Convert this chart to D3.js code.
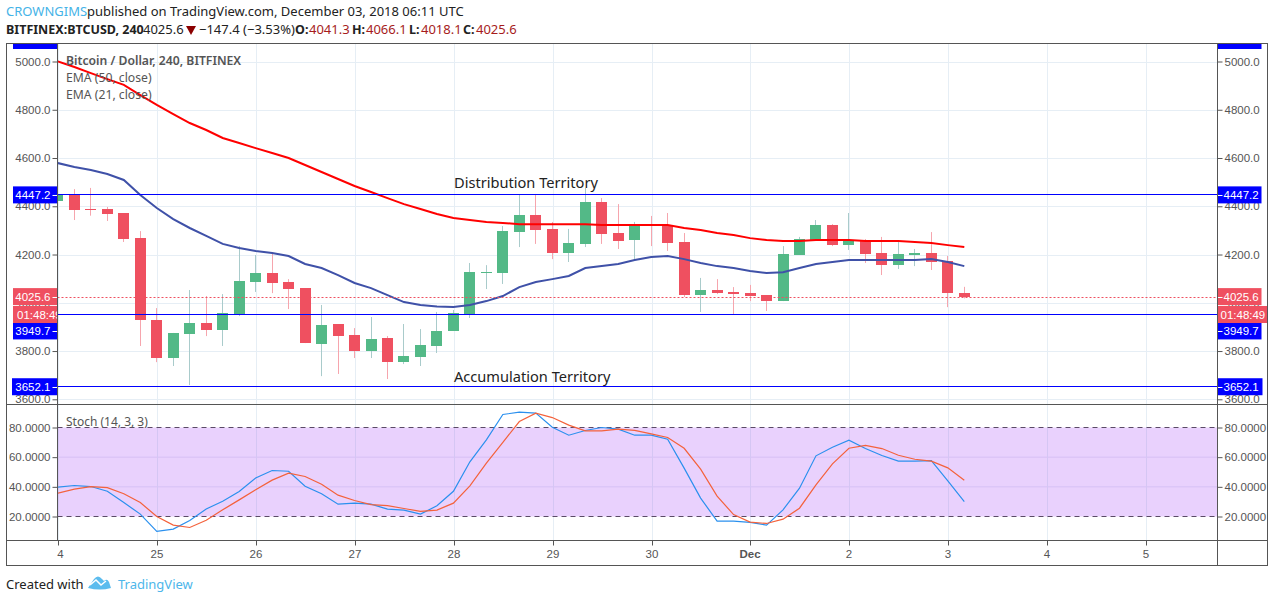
<!DOCTYPE html>
<html><head><meta charset="utf-8">
<style>html,body{margin:0;padding:0;background:#fff}svg{display:block}</style>
<script src="https://cdnjs.cloudflare.com/ajax/libs/d3/7.8.5/d3.min.js"></script>
</head><body><div id="c"></div>
<script>
// [open, high, low, close] for each 4h candle
const candles=[
[4423,4448,4423,4448],[4448,4471,4343,4384],[4387,4476,4361,4384],[4389,4397,4339,4368],[4372,4372,4252,4264],
[4268,4297,3821,3928],[3928,3978,3754,3771],[3771,3875,3738,3875],[3871,4053,3659,3916],[3916,4028,3862,3887],
[3887,4036,3821,3957],[3953,4235,3945,4090],[4086,4198,4045,4123],[4123,4210,4040,4082],[4086,4098,3974,4057],
[4061,4061,3833,3833],[3829,3991,3696,3908],[3912,3912,3705,3862],[3866,3895,3771,3800],[3800,3941,3771,3850],
[3854,3862,3684,3754],[3754,3912,3746,3779],[3775,3891,3738,3825],[3821,3962,3792,3883],[3883,3970,3883,3957],
[3953,4165,3937,4127],[4123,4156,4057,4127],[4123,4318,4078,4297],[4293,4450,4231,4364],[4364,4451,4244,4302],
[4306,4335,4181,4206],[4206,4306,4169,4248],[4244,4476,4231,4418],[4418,4434,4244,4285],[4289,4409,4223,4256],
[4260,4335,4181,4322],[4326,4360,4235,4318],[4322,4372,4215,4248],[4252,4289,4024,4032],[4032,4103,3962,4053],
[4053,4098,4036,4040],[4045,4065,3953,4036],[4040,4074,4007,4028],[4032,4032,3966,4007],[4007,4235,4007,4202],
[4198,4273,4198,4264],[4260,4343,4260,4322],[4322,4326,4235,4239],[4239,4372,4219,4256],[4256,4264,4165,4202],
[4206,4273,4115,4156],[4156,4256,4140,4202],[4198,4223,4152,4206],[4206,4293,4136,4169],[4173,4194,3982,4040],
[4041.3,4066.1,4018.1,4025.6]];
const ema50=[5000,4977,4952,4927,4903,4861,4820,4782,4745,4716,4683,4662,4641,4621,4600,4571,4542,4513,4484,4459,
4434,4409,4389,4368,4351,4343,4335,4331,4326,4326,4326,4326,4326,4322,4322,4322,4322,4322,4310,4302,
4289,4281,4268,4260,4256,4256,4260,4260,4260,4256,4256,4256,4252,4248,4239,4231];
const ema21=[4579,4563,4550,4534,4509,4447,4393,4347,4310,4277,4244,4227,4215,4206,4194,4161,4144,4115,4082,4061,
4032,4003,3991,3985,3983,3991,4007,4028,4065,4086,4098,4111,4144,4152,4161,4177,4190,4194,4181,4165,
4152,4144,4132,4123,4127,4144,4161,4169,4177,4177,4177,4177,4177,4181,4169,4152];
const stochK=[39.8,40.9,40.2,37,29.4,21.6,10,11.5,17.3,25,30.3,36.9,46,51,50.5,40.4,35.3,28.3,29,28.3,
25,24.3,21.6,27.2,37,56.9,71.7,88.8,90.3,89.7,80.2,74.8,78,80,78.9,74.8,74.8,72.1,52.6,32.4,
16.9,16.9,16,14.2,24.5,39.1,60.9,66.7,71.5,65.8,61.1,57.3,57.3,57.7,44,30.1];
const stochD=[35.7,38.4,40.2,39.5,35.3,29.4,20,14.2,12.6,17.5,24.5,31.2,38,44.5,49.2,47,41.8,34.4,30.8,28,
27.3,25.4,23.4,24.3,29,40.7,56,70,84,89.7,86.7,81.6,77.7,77.7,78.9,78,75.7,73.3,66,51.9,
33.7,21.3,16.2,15.3,18.2,25.6,41.3,55.5,66,68,65.8,61.3,58.6,57.3,52.8,44.5];
const priceTicks=[3600,3800,4000,4200,4400,4600,4800,5000];
const stochTicks=[20,40,60,80];
const dayTicks=[[0,"4"],[6,"25"],[12,"26"],[18,"27"],[24,"28"],[30,"29"],[36,"30"],[42,"Dec"],[48,"2"],[54,"3"],[60,"4"],[66,"5"]];
const levels=[[4447.2,"4447.2"],[3949.7,"3949.7"],[3652.1,"3652.1"]];
const lastPrice=4025.6, countdown="01:48:49";
const territoryLabels=[["Distribution Territory",4476],["Accumulation Territory",3672]];

const W=1274,H=602,L=57.5,R=1217.5,T=43.5,M=404.5,B=540.5,F=565.5,OL=6.5,OR=1267.5;
const RED="#ef5060",GREEN="#53b987",AX="#555",SANS="'Noto Sans',sans-serif",AR="'Liberation Sans',Arial,sans-serif";
const svg=d3.select("#c").append("svg").attr("width",W).attr("height",H);
const defs=svg.append("defs");
defs.append("clipPath").attr("id","m").append("rect").attr("x",L+.5).attr("y",T).attr("width",R-L-.5).attr("height",M-T);
defs.append("clipPath").attr("id","s").append("rect").attr("x",L+.5).attr("y",M).attr("width",R-L-.5).attr("height",B-M);
const x=d3.scaleLinear().domain([0,66]).range([57.9,57.9+16.48*66]);
const y=d3.scaleLinear().domain([3600,5000]).range([399.3,61.5]);
const ys=d3.scaleLinear().domain([20,80]).range([516.5,427.5]);
const gx=i=>Math.ceil(x(i)-.1)+.5, cx=i=>Math.floor(x(i))+.5, cr=v=>Math.round(v)+.5;

// grid
const grid=svg.append("g").attr("stroke","#e6eef5").attr("stroke-width",1);
dayTicks.forEach(d=>{grid.append("line").attr("x1",gx(d[0])).attr("x2",gx(d[0])).attr("y1",T).attr("y2",B);});
priceTicks.forEach(p=>{grid.append("line").attr("x1",L).attr("x2",R).attr("y1",cr(y(p))).attr("y2",cr(y(p)));});

// stochastic pane
const sp=svg.append("g").attr("clip-path","url(#s)");
sp.append("rect").attr("x",L).attr("width",R-L).attr("y",ys(80)).attr("height",ys(20)-ys(80)).attr("fill","#e9d1fd");
[40,60].forEach(v=>sp.append("line").attr("x1",L).attr("x2",R).attr("y1",ys(v)).attr("y2",ys(v)).attr("stroke","#d6c0f5"));
dayTicks.forEach(d=>sp.append("line").attr("x1",gx(d[0])).attr("x2",gx(d[0])).attr("y1",ys(80)).attr("y2",ys(20)).attr("stroke","#d5c6f4"));
[20,80].forEach(v=>sp.append("line").attr("x1",L).attr("x2",R).attr("y1",ys(v)).attr("y2",ys(v)).attr("stroke","#5a4a66").attr("stroke-dasharray","5 4"));
const ls=d3.line().x((d,i)=>x(i)).y(d=>ys(d));
sp.append("path").attr("d",ls(stochK)).attr("fill","none").attr("stroke","#2b90ee").attr("stroke-width",1.2);
sp.append("path").attr("d",ls(stochD)).attr("fill","none").attr("stroke","#f4623c").attr("stroke-width",1.2);
svg.append("text").text("Stoch (14, 3, 3)").attr("x",66).attr("y",426).attr("font-family",SANS).attr("font-size",12).attr("fill","#555");

// main pane
const mp=svg.append("g").attr("clip-path","url(#m)");
mp.append("g").selectAll("line").data(candles).join("line")
  .attr("x1",(d,i)=>cx(i)).attr("x2",(d,i)=>cx(i)).attr("y1",d=>y(d[1])).attr("y2",d=>y(d[2]))
  .attr("stroke",d=>d[3]>=d[0]?"#a9cbcb":"#f6a5ad");
mp.append("g").selectAll("rect").data(candles).join("rect")
  .attr("x",(d,i)=>cx(i)-5.5).attr("width",11)
  .attr("y",d=>Math.round(y(Math.max(d[0],d[3]))))
  .attr("height",d=>Math.max(1,Math.round(y(Math.min(d[0],d[3])))-Math.round(y(Math.max(d[0],d[3])))))
  .attr("fill",d=>d[3]>=d[0]?GREEN:RED);
const lm=d3.line().x((d,i)=>x(i)).y(d=>y(d));
mp.append("path").attr("d",lm(ema50)).attr("fill","none").attr("stroke","#ff0000").attr("stroke-width",2);
mp.append("path").attr("d",lm(ema21)).attr("fill","none").attr("stroke","#3f51a8").attr("stroke-width",2);
levels.forEach(l=>mp.append("line").attr("x1",L).attr("x2",R).attr("y1",cr(y(l[0]))-1).attr("y2",cr(y(l[0]))-1).attr("stroke","#0000ff"));
mp.append("line").attr("x1",L).attr("x2",R).attr("y1",cr(y(lastPrice))).attr("y2",cr(y(lastPrice))).attr("stroke",RED).attr("stroke-dasharray","2 2");
territoryLabels.forEach(t=>svg.append("text").text(t[0]).attr("x",454).attr("y",y(t[1])).attr("font-family",SANS).attr("font-size",14.6).attr("fill","#222"));
[["Bitcoin / Dollar, 240, BITFINEX",65,600],["EMA (50, close)",82,400],["EMA (21, close)",99,400]].forEach(t=>
  svg.append("text").text(t[0]).attr("x",66).attr("y",t[1]).attr("font-family",SANS).attr("font-size",12.2).attr("font-weight",t[2]).attr("fill","#555"));

// axes
function styleAxis(g){g.select(".domain").remove();g.selectAll("line").attr("stroke",AX);
  g.selectAll("text").attr("font-family",AR).attr("font-size",11.5).attr("fill","#555");}
const pf=d3.format(".1f"),sf=d3.format(".4f");
svg.append("g").attr("transform",`translate(${L},0)`).call(d3.axisLeft(y).tickValues(priceTicks).tickFormat(pf).tickSize(5).tickPadding(2)).call(styleAxis);
svg.append("g").attr("transform",`translate(${R},0)`).call(d3.axisRight(y).tickValues(priceTicks).tickFormat(pf).tickSize(5).tickPadding(2)).call(styleAxis);
svg.append("g").attr("transform",`translate(${L},0)`).call(d3.axisLeft(ys).tickValues(stochTicks).tickFormat(sf).tickSize(5).tickPadding(2)).call(styleAxis);
svg.append("g").attr("transform",`translate(${R},0)`).call(d3.axisRight(ys).tickValues(stochTicks).tickFormat(sf).tickSize(5).tickPadding(2)).call(styleAxis);
const tg=svg.append("g");
dayTicks.forEach(d=>{
  tg.append("line").attr("x1",gx(d[0])).attr("x2",gx(d[0])).attr("y1",B).attr("y2",B+5).attr("stroke",AX);
  tg.append("text").text(d[1]).attr("x",d[0]===0?60.5:gx(d[0])-.5).attr("y",558).attr("text-anchor","middle").attr("font-family",AR)
    .attr("font-size",11.5).attr("font-weight",d[1]==="Dec"?700:400).attr("fill","#555");
});

// price labels
function tag(lbl,yc,fill,xl,w,tx,anchor,clip){
  const g=svg.append("g");
  g.append("rect").attr("x",xl).attr("y",yc-8.5).attr("width",w).attr("height",17).attr("fill",fill);
  g.append("text").text(lbl).attr("x",tx).attr("y",yc+4).attr("text-anchor",anchor).attr("font-family",AR).attr("font-size",11.5).attr("fill","#fff");
}
const tags=[[levels[0][1],y(levels[0][0]),"#0000ff",44],[levels[2][1],y(levels[2][0]),"#0000ff",45],
[String(lastPrice),y(lastPrice),RED,44],[levels[1][1],y(levels[1][0])+16,"#0000ff",44]];
tags.forEach(t=>{tag(t[0],t[1],t[2],L-t[3]-.5,t[3],L-7,"end");tag(t[0],t[1],t[2],R,t[3],R+6,"start");
 svg.append("line").attr("x1",L-5).attr("x2",L).attr("y1",cr(t[1])).attr("y2",cr(t[1])).attr("stroke","#fff");
 svg.append("line").attr("x1",R).attr("x2",R+5).attr("y1",cr(t[1])).attr("y2",cr(t[1])).attr("stroke","#fff");});
defs.append("clipPath").attr("id","cd").append("rect").attr("x",13).attr("y",300).attr("width",45).attr("height",30);
const cd=svg.append("g").attr("clip-path","url(#cd)");
cd.append("rect").attr("x",13).attr("y",306).attr("width",45).attr("height",17).attr("fill",RED);
cd.append("text").text(countdown).attr("x",17).attr("y",318.5).attr("font-family",AR).attr("font-size",11.5).attr("fill","#fff");
svg.append("rect").attr("x",R).attr("y",306).attr("width",50).attr("height",17).attr("fill",RED);
svg.append("text").text(countdown).attr("x",R+3).attr("y",318.5).attr("font-family",AR).attr("font-size",11.5).attr("fill","#fff");
svg.append("rect").attr("x",13).attr("y",44).attr("width",44).attr("height",5).attr("fill","#0000ff");
svg.append("rect").attr("x",R).attr("y",44).attr("width",44).attr("height",5).attr("fill","#0000ff");

// frame
const fr=svg.append("g").attr("fill","none").attr("stroke",AX);
fr.append("rect").attr("x",OL).attr("y",T).attr("width",OR-OL).attr("height",F-T);
[[L,T,L,B],[R,T,R,F],[OL,M,OR,M],[OL,B,OR,B]].forEach(s=>fr.append("line").attr("x1",s[0]).attr("y1",s[1]).attr("x2",s[2]).attr("y2",s[3]));

// header
const h=(s,xp,yp,o={})=>svg.append("text").text(s).attr("x",xp).attr("y",yp).attr("font-family",SANS).attr("font-size",o.size||13).attr("font-weight",o.w||400).attr("fill",o.c||"#222");
h("CROWNGIMS",6,16,{c:"#45b3e7"});
h("published on TradingView.com, December 03, 2018 06:11 UTC",87,16);
h("BITFINEX:BTCUSD, 240",6,34,{w:700,size:12.5});
h("4025.6",143,34);
svg.append("path").attr("d","M186 26H196L191 35Z").attr("fill","#8b0000");
h("−147.4 (−3.53%)",199,34);
h("O:",295,34,{w:700,size:12.5});h("4041.3",309,34,{c:"#a61c1c"});
h("H:",352,34,{w:700,size:12.5});h("4066.1",366,34,{c:"#a61c1c"});
h("L:",409,34,{w:700,size:12.5});h("4018.1",421,34,{c:"#a61c1c"});
h("C:",463,34,{w:700,size:12.5});h("4025.6",476,34,{c:"#a61c1c"});
h("Created with",6,589);
svg.append("path").attr("d","M88 588L94 579Q98 574 102 579L104 581Q107 578 109 582L111 588Q100 591 88 588Z").attr("fill","#5cbcee");
svg.append("path").attr("d","M90 585L96 580L101 585L106 581").attr("fill","none").attr("stroke","#fff").attr("stroke-width",1.5);
h("TradingView",118,589,{c:"#4db6ea"});
</script></body></html>
